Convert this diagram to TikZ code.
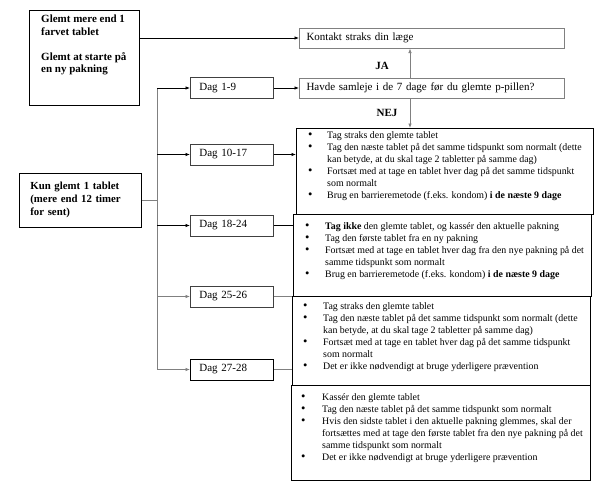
\documentclass[tikz,border=0pt]{standalone}
\usepackage{fontspec}
\setmainfont{Liberation Serif}
\usetikzlibrary{arrows.meta}
\newcommand{\blt}{\raisebox{-0.6pt}{\fontsize{12.5}{12}\selectfont\textbullet}}
\begin{document}
\begin{tikzpicture}[x=1pt,y=-1pt,
  bigbox/.style={draw, line width=0.8pt, inner sep=0pt, anchor=north west},
  dagbox/.style={draw=black!75, line width=0.8pt, minimum height=21pt, text width=65pt, inner xsep=9pt, inner ysep=0pt, align=left, anchor=west, font=\fontsize{11}{13}\selectfont},
  qbox/.style={draw=black!50, line width=1pt, minimum height=20pt, text width=251pt, inner xsep=7pt, inner ysep=0pt, align=left, anchor=west, font=\fontsize{11}{13}\selectfont},
  listtext/.style={inner sep=0pt, anchor=base west, font=\fontsize{9.9}{12}\selectfont},
  arr/.style={line width=0.7pt, -{Latex[length=4.5pt,width=3.5pt]}},
  conn/.style={line width=0.7pt},
  gline/.style={draw=black!50},
  lbl/.style={font=\bfseries\fontsize{11}{13}\selectfont, inner sep=0pt}
]
\useasboundingbox[fill=white] (0,0) rectangle (598,485);

% top-left box
\node[bigbox, minimum width=110pt, minimum height=95pt] (g1) at (29,10) {};
\node[lbl, anchor=north west, align=left, font=\bfseries\fontsize{11}{12.5}\selectfont] (g1t) at (41,15)
  {Glemt mere end 1\\farvet tablet\\[12.5pt]Glemt at starte på\\en ny pakning};

% question boxes
\node[qbox] (kontakt) at (299,38) {Kontakt straks din læge};
\node[qbox] (havde) at (299,88) {Havde samleje i de 7 dage før du glemte p-pillen?};
\node[lbl] (ja) at (382,66) {JA};
\node[lbl] (nej) at (387,113) {NEJ};

% start box
\node[draw, line width=0.8pt, anchor=west, minimum height=54pt, text width=100pt, inner xsep=11pt, inner ysep=0pt, align=left, font=\bfseries\fontsize{10.8}{13}\selectfont] (kun) at (19,200)
  {Kun glemt 1 tablet\\(mere end 12 timer\\for sent)};

% day boxes
\node[dagbox] (d1) at (190,88) {Dag 1-9};
\node[dagbox] (d2) at (190,154.5) {Dag 10-17};
\node[dagbox] (d3) at (190,225.5) {Dag 18-24};
\node[dagbox] (d4) at (190,296.5) {Dag 25-26};
\node[dagbox, draw=black] (d5) at (190,369.5) {Dag 27-28};

% advice boxes
\node[bigbox, minimum width=297pt, minimum height=86pt] (b1) at (296,128) {};
\node[bigbox, minimum width=298pt, minimum height=82pt] (b2) at (293,214) {};
\node[bigbox, minimum width=298pt, minimum height=89pt] (b3) at (292,296) {};
\node[bigbox, minimum width=299pt, minimum height=95pt] (b4) at (291,385) {};

\node[listtext] (b1t) at (308,138) {\begin{tabular}[t]{@{}p{19pt}@{}l@{}}
\blt & Tag straks den glemte tablet\\
\blt & Tag den næste tablet på det samme tidspunkt som normalt (dette\\
 & kan betyde, at du skal tage 2 tabletter på samme dag)\\
\blt & Fortsæt med at tage en tablet hver dag på det samme tidspunkt\\
 & som normalt\\
\blt & Brug en barrieremetode (f.eks. kondom) \textbf{i de næste 9 dage}
\end{tabular}};

\node[listtext] (b2t) at (305,229) {\begin{tabular}[t]{@{}p{20pt}@{}l@{}}
\blt & \textbf{Tag ikke} den glemte tablet, og kassér den aktuelle pakning\\
\blt & Tag den første tablet fra en ny pakning\\
\blt & Fortsæt med at tage en tablet hver dag fra den nye pakning på det\\
 & samme tidspunkt som normalt\\
\blt & Brug en barrieremetode (f.eks. kondom) \textbf{i de næste 9 dage}
\end{tabular}};

\node[listtext] (b3t) at (303,309) {\begin{tabular}[t]{@{}p{20pt}@{}l@{}}
\blt & Tag straks den glemte tablet\\
\blt & Tag den næste tablet på det samme tidspunkt som normalt (dette\\
 & kan betyde, at du skal tage 2 tabletter på samme dag)\\
\blt & Fortsæt med at tage en tablet hver dag på det samme tidspunkt\\
 & som normalt\\
\blt & Det er ikke nødvendigt at bruge yderligere prævention
\end{tabular}};

\node[listtext] (b4t) at (301,400) {\begin{tabular}[t]{@{}p{21pt}@{}l@{}}
\blt & Kassér den glemte tablet\\
\blt & Tag den næste tablet på det samme tidspunkt som normalt\\
\blt & Hvis den sidste tablet i den aktuelle pakning glemmes, skal der\\
 & fortsættes med at tage den første tablet fra den nye pakning på det\\
 & samme tidspunkt som normalt\\
\blt & Det er ikke nødvendigt at bruge yderligere prævention
\end{tabular}};

% connectors
\coordinate (vx) at (410,0);
\coordinate (tr) at (157,0);

\draw[arr] (kontakt.west -| g1.east) -- (kontakt.west);
\draw[arr, gline] (vx |- havde.north) -- (vx |- kontakt.south);
\draw[arr, gline] (vx |- havde.south) -- (vx |- b1.north);
\draw[arr] (d1.east) -- (havde.west);

\draw[conn, gline] (kun.east) -- (tr |- kun.east);
\draw[conn, gline] (tr |- d1.west) -- (tr |- d5.west);
\draw[arr] (tr |- d1.west) -- (d1.west);
\draw[arr] (tr |- d2.west) -- (d2.west);
\draw[arr] (tr |- d3.west) -- (d3.west);
\draw[arr, gline] (tr |- d4.west) -- (d4.west);
\draw[arr, gline] (tr |- d5.west) -- (d5.west);

\draw[arr] (d2.east) -- (d2.east -| b1.west);
\draw[conn] (d3.east) -- (d3.east -| b2.west);
\draw[conn, gline] (d4.east) -- (d4.east -| b3.west);
\draw[conn, gline] (d5.east) -- (d5.east -| b3.west);
\end{tikzpicture}
\end{document}
